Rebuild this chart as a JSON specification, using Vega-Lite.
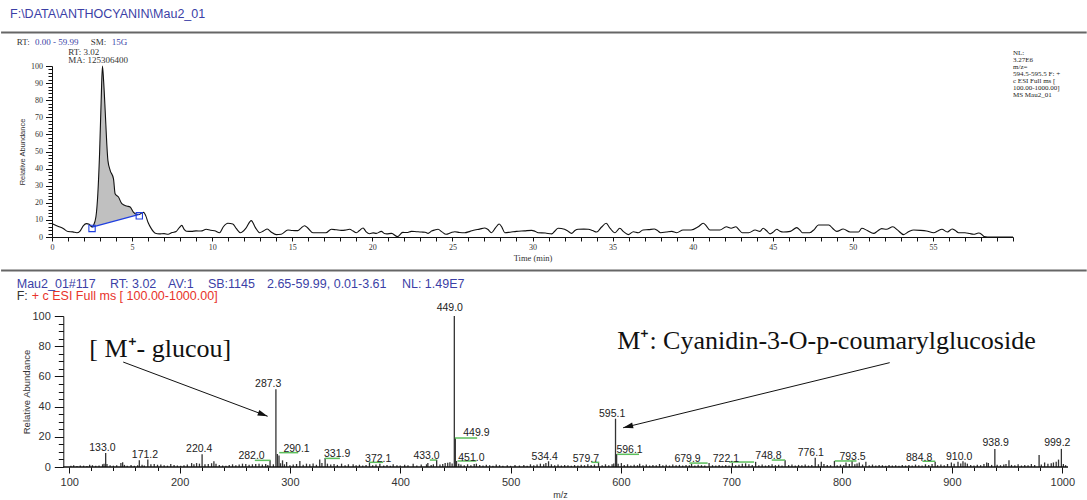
{
  "$schema": "https://vega.github.io/schema/vega-lite/v6.json",
  "background": "white",
  "padding": {"left": 0, "top": 8, "right": 0, "bottom": 0},
  "spacing": 6,
  "config": {"view": {"stroke": null}, "axis": {"grid": false, "domainColor": "#111", "tickColor": "#111", "labelColor": "#333", "titleColor": "#333"}},
  "datasets": {
    "trace": [
      {"t":0.05,"v":7.6},{"t":0.4,"v":6.2},{"t":0.7,"v":5.0},{"t":1.0,"v":3.2},{"t":1.3,"v":3.0},{"t":1.55,"v":2.5},{"t":1.75,"v":3.5},{"t":1.95,"v":6.5},{"t":2.15,"v":7.8},{"t":2.32,"v":7.4},{"t":2.5,"v":5.9},
      {"t":2.59,"v":6.8},{"t":2.74,"v":11.7},{"t":2.86,"v":25},{"t":2.97,"v":48.7},{"t":3.07,"v":80},{"t":3.15,"v":100},{"t":3.22,"v":91.6},{"t":3.32,"v":74},{"t":3.42,"v":54.6},{"t":3.49,"v":44.8},{"t":3.63,"v":39},{"t":3.84,"v":34},{"t":3.94,"v":25.3},{"t":4.15,"v":23.4},{"t":4.36,"v":19.5},{"t":4.67,"v":18.1},{"t":4.88,"v":17.5},{"t":5.08,"v":14.6},{"t":5.29,"v":13.3},{"t":5.45,"v":13.2},
      {"t":5.6,"v":14.1},{"t":5.72,"v":14.4},{"t":5.85,"v":12.5},{"t":6.0,"v":8.5},{"t":6.2,"v":4.9},{"t":6.45,"v":2.2},{"t":6.7,"v":1.8},{"t":7.0,"v":2.0},{"t":7.25,"v":1.6},{"t":7.5,"v":2.6},{"t":7.75,"v":3.2},{"t":7.95,"v":5.5},{"t":8.1,"v":6.8},{"t":8.25,"v":4.5},{"t":8.4,"v":3.4},{"t":8.7,"v":3.3},{"t":9.0,"v":3.6},{"t":9.3,"v":3.5},{"t":9.63,"v":4.5},{"t":9.9,"v":3.9},{"t":10.15,"v":3.7},{"t":10.46,"v":2.5},{"t":10.7,"v":6.0},{"t":10.98,"v":8.0},{"t":11.29,"v":7.6},{"t":11.5,"v":5.0},{"t":11.77,"v":2.5},{"t":12.1,"v":5.0},{"t":12.44,"v":9.6},{"t":12.7,"v":5.5},{"t":12.96,"v":2.5},{"t":13.2,"v":3.5},{"t":13.44,"v":4.7},{"t":13.7,"v":2.8},{"t":14.0,"v":1.4},{"t":14.31,"v":1.6},{"t":14.73,"v":4.1},{"t":15.0,"v":3.8},{"t":15.35,"v":3.7},{"t":15.55,"v":5.2},{"t":15.77,"v":6.6},{"t":16.0,"v":5.0},{"t":16.29,"v":2.5},{"t":16.7,"v":2.5},{"t":17.1,"v":2.5},{"t":17.44,"v":4.5},{"t":17.75,"v":4.2},{"t":18.06,"v":3.9},{"t":18.3,"v":4.0},{"t":18.58,"v":4.5},{"t":18.8,"v":3.5},{"t":19.0,"v":2.5},{"t":19.2,"v":3.8},{"t":19.42,"v":5.3},{"t":19.6,"v":3.2},{"t":19.83,"v":1.9},{"t":20.05,"v":2.4},{"t":20.25,"v":2.1},{"t":20.56,"v":3.3},{"t":20.75,"v":2.0},{"t":20.9,"v":1.8},{"t":21.2,"v":2.1},{"t":21.56,"v":0.2},{"t":21.9,"v":2.7},{"t":22.15,"v":2.6},{"t":22.44,"v":3.3},{"t":22.75,"v":3.1},{"t":23.06,"v":2.9},{"t":23.3,"v":2.8},{"t":23.48,"v":2.1},{"t":23.7,"v":3.5},{"t":23.9,"v":4.1},{"t":24.1,"v":4.5},{"t":24.35,"v":3.0},{"t":24.6,"v":1.6},{"t":24.9,"v":2.5},{"t":25.15,"v":3.1},{"t":25.45,"v":2.6},{"t":25.77,"v":2.5},{"t":26.1,"v":3.3},{"t":26.4,"v":4.1},{"t":26.7,"v":4.6},{"t":27.0,"v":5.3},{"t":27.2,"v":4.5},{"t":27.44,"v":2.5},{"t":27.7,"v":5.5},{"t":27.92,"v":7.6},{"t":28.1,"v":5.5},{"t":28.27,"v":2.5},{"t":28.6,"v":2.8},{"t":29.0,"v":3.3},{"t":29.5,"v":3.6},{"t":29.94,"v":3.9},{"t":30.15,"v":3.4},{"t":30.35,"v":2.5},{"t":30.8,"v":2.3},{"t":31.2,"v":1.8},{"t":31.4,"v":3.5},{"t":31.6,"v":5.1},{"t":32.0,"v":4.5},{"t":32.2,"v":3.5},{"t":32.44,"v":2.1},{"t":32.65,"v":3.8},{"t":32.85,"v":4.5},{"t":33.2,"v":4.6},{"t":33.48,"v":4.5},{"t":33.75,"v":3.8},{"t":34.0,"v":2.9},{"t":34.3,"v":5.7},{"t":34.6,"v":8.0},{"t":34.85,"v":5.0},{"t":35.15,"v":2.5},{"t":35.45,"v":5.1},{"t":35.7,"v":3.0},{"t":35.98,"v":1.4},{"t":36.3,"v":3.1},{"t":36.6,"v":2.5},{"t":36.9,"v":4.1},{"t":37.25,"v":4.3},{"t":37.6,"v":4.7},{"t":37.8,"v":3.8},{"t":38.0,"v":2.5},{"t":38.35,"v":2.9},{"t":38.7,"v":3.3},{"t":39.0,"v":2.5},{"t":39.4,"v":4.1},{"t":39.9,"v":4.1},{"t":40.35,"v":6.0},{"t":40.66,"v":8.0},{"t":40.85,"v":6.5},{"t":41.08,"v":4.1},{"t":41.4,"v":4.1},{"t":41.7,"v":4.1},{"t":42.1,"v":6.0},{"t":42.4,"v":5.1},{"t":42.7,"v":6.0},{"t":42.9,"v":4.2},{"t":43.1,"v":2.5},{"t":43.5,"v":2.5},{"t":43.9,"v":4.1},{"t":44.2,"v":3.3},{"t":44.4,"v":5.1},{"t":44.6,"v":3.8},{"t":44.83,"v":1.8},{"t":45.05,"v":3.0},{"t":45.25,"v":4.5},{"t":45.45,"v":3.4},{"t":45.66,"v":2.9},{"t":46.1,"v":3.3},{"t":46.5,"v":5.5},{"t":46.7,"v":4.0},{"t":46.85,"v":2.5},{"t":47.3,"v":2.5},{"t":47.6,"v":4.5},{"t":47.85,"v":7.0},{"t":48.2,"v":7.0},{"t":48.5,"v":7.0},{"t":48.75,"v":5.0},{"t":49.0,"v":3.3},{"t":49.4,"v":4.7},{"t":49.83,"v":2.9},{"t":50.35,"v":2.9},{"t":50.56,"v":5.1},{"t":50.9,"v":3.8},{"t":51.3,"v":2.1},{"t":51.55,"v":3.5},{"t":51.8,"v":4.9},{"t":52.1,"v":4.5},{"t":52.5,"v":6.0},{"t":52.8,"v":4.0},{"t":53.17,"v":1.4},{"t":53.5,"v":3.2},{"t":53.8,"v":4.1},{"t":54.2,"v":3.9},{"t":54.6,"v":3.5},{"t":55.05,"v":2.5},{"t":55.3,"v":3.5},{"t":55.56,"v":4.5},{"t":55.9,"v":2.9},{"t":56.2,"v":4.7},{"t":56.4,"v":3.8},{"t":56.6,"v":2.5},{"t":57.0,"v":2.5},{"t":57.3,"v":2.0},{"t":57.54,"v":1.6},{"t":57.85,"v":2.3},{"t":58.05,"v":1.5},{"t":58.2,"v":0.2},{"t":58.4,"v":0},{"t":60,"v":0}
    ],
    "peak": [
      {"t":2.5,"v":5.9,"base":5.8},{"t":2.59,"v":6.8,"base":6.02},{"t":2.74,"v":11.7,"base":6.4},{"t":2.86,"v":25,"base":6.7},{"t":2.97,"v":48.7,"base":6.98},{"t":3.07,"v":80,"base":7.23},{"t":3.15,"v":100,"base":7.43},{"t":3.22,"v":91.6,"base":7.61},{"t":3.32,"v":74,"base":7.86},{"t":3.42,"v":54.6,"base":8.11},{"t":3.49,"v":44.8,"base":8.28},{"t":3.63,"v":39,"base":8.63},{"t":3.84,"v":34,"base":9.16},{"t":3.94,"v":25.3,"base":9.41},{"t":4.15,"v":23.4,"base":9.94},{"t":4.36,"v":19.5,"base":10.46},{"t":4.67,"v":18.1,"base":11.24},{"t":4.88,"v":17.5,"base":11.77},{"t":5.08,"v":14.6,"base":12.27},{"t":5.29,"v":13.3,"base":12.8},{"t":5.45,"v":13.2,"base":13.2}
    ],
    "spectrum": [
      {"mz":101.5,"i":0.8},{"mz":104,"i":1.2},{"mz":107,"i":0.6},{"mz":110,"i":1.0},{"mz":113,"i":0.9},{"mz":116,"i":0.7},{"mz":118.5,"i":1.5},{"mz":121,"i":1.2},{"mz":124,"i":0.8},{"mz":127,"i":1.0},{"mz":130.2,"i":1.8},{"mz":131.5,"i":2.2},{"mz":133.0,"i":9.3},{"mz":134.2,"i":2.0},{"mz":137,"i":1.2},{"mz":140,"i":0.9},{"mz":143,"i":1.1},{"mz":146.8,"i":2.6},{"mz":148.4,"i":3.1},{"mz":150,"i":1.4},{"mz":152.5,"i":0.9},{"mz":156,"i":1.3},{"mz":159,"i":0.8},{"mz":162,"i":1.2},{"mz":163.5,"i":4.4},{"mz":166,"i":1.5},{"mz":168,"i":1.0},{"mz":171.2,"i":5.0},{"mz":174,"i":1.8},{"mz":177,"i":2.0},{"mz":180,"i":1.5},{"mz":183,"i":1.6},{"mz":186,"i":1.2},{"mz":189,"i":0.9},{"mz":192,"i":2.0},{"mz":195,"i":1.4},{"mz":198,"i":1.0},{"mz":201,"i":0.8},{"mz":204,"i":1.2},{"mz":207,"i":1.6},{"mz":210.9,"i":2.6},{"mz":213,"i":1.8},{"mz":215.4,"i":2.6},{"mz":218,"i":2.2},{"mz":220.4,"i":8.5},{"mz":223,"i":1.8},{"mz":226,"i":2.0},{"mz":229,"i":2.5},{"mz":231.1,"i":3.8},{"mz":233,"i":2.2},{"mz":236,"i":1.3},{"mz":239,"i":1.0},{"mz":242,"i":0.8},{"mz":245,"i":1.4},{"mz":248,"i":1.8},{"mz":251,"i":1.2},{"mz":254,"i":1.6},{"mz":257,"i":2.2},{"mz":260,"i":2.0},{"mz":263,"i":1.5},{"mz":266,"i":1.8},{"mz":269,"i":2.0},{"mz":272,"i":2.2},{"mz":275,"i":1.6},{"mz":278,"i":2.0},{"mz":280,"i":1.4},{"mz":282.0,"i":4.4},{"mz":285,"i":1.8},{"mz":287.3,"i":51.5},{"mz":288.6,"i":8.6},{"mz":290.1,"i":7.6},{"mz":291.5,"i":2.5},{"mz":293.3,"i":4.4},{"mz":295,"i":1.8},{"mz":297,"i":3.3},{"mz":300,"i":1.2},{"mz":303,"i":1.6},{"mz":306,"i":2.0},{"mz":309,"i":4.0},{"mz":312,"i":1.5},{"mz":315,"i":2.2},{"mz":318,"i":1.8},{"mz":321,"i":2.4},{"mz":324,"i":1.5},{"mz":327,"i":4.9},{"mz":329,"i":2.6},{"mz":331.9,"i":6.0},{"mz":334,"i":2.2},{"mz":337,"i":1.6},{"mz":340,"i":2.0},{"mz":343,"i":1.4},{"mz":346.8,"i":2.2},{"mz":350,"i":1.2},{"mz":353,"i":1.8},{"mz":357.3,"i":1.8},{"mz":360,"i":1.2},{"mz":363,"i":1.5},{"mz":366,"i":1.0},{"mz":369,"i":1.4},{"mz":372.1,"i":3.1},{"mz":375,"i":1.2},{"mz":378,"i":1.6},{"mz":381.5,"i":2.2},{"mz":385,"i":1.0},{"mz":388,"i":1.4},{"mz":391,"i":0.9},{"mz":393.6,"i":1.8},{"mz":397,"i":1.2},{"mz":400,"i":1.0},{"mz":404,"i":1.5},{"mz":407,"i":1.2},{"mz":411.7,"i":2.2},{"mz":415,"i":1.0},{"mz":419,"i":1.6},{"mz":423.8,"i":1.8},{"mz":425,"i":2.6},{"mz":428,"i":1.4},{"mz":430,"i":1.8},{"mz":433.0,"i":4.8},{"mz":436,"i":1.6},{"mz":438.5,"i":2.0},{"mz":440.7,"i":2.6},{"mz":443,"i":2.8},{"mz":445,"i":3.2},{"mz":447,"i":2.4},{"mz":449.0,"i":100},{"mz":449.9,"i":19.2},{"mz":451.0,"i":4.0},{"mz":453,"i":2.2},{"mz":455,"i":1.6},{"mz":458,"i":1.2},{"mz":461,"i":1.8},{"mz":464,"i":1.2},{"mz":467,"i":2.0},{"mz":469,"i":2.2},{"mz":472,"i":1.4},{"mz":475,"i":1.0},{"mz":478,"i":1.5},{"mz":481,"i":1.2},{"mz":484,"i":0.8},{"mz":487,"i":1.6},{"mz":490,"i":1.2},{"mz":493,"i":0.9},{"mz":497,"i":1.2},{"mz":500,"i":0.8},{"mz":504,"i":1.3},{"mz":508,"i":1.0},{"mz":512,"i":1.4},{"mz":515,"i":0.9},{"mz":518,"i":1.8},{"mz":521,"i":1.2},{"mz":524,"i":1.6},{"mz":527,"i":2.2},{"mz":530,"i":1.8},{"mz":532,"i":2.6},{"mz":534.4,"i":3.8},{"mz":537,"i":1.8},{"mz":540,"i":1.2},{"mz":543,"i":1.6},{"mz":546,"i":1.0},{"mz":549,"i":1.4},{"mz":552,"i":1.2},{"mz":555,"i":0.9},{"mz":558,"i":1.3},{"mz":561,"i":1.0},{"mz":564,"i":1.5},{"mz":567,"i":1.2},{"mz":570,"i":1.8},{"mz":573,"i":1.4},{"mz":576,"i":1.6},{"mz":579.7,"i":2.6},{"mz":583,"i":1.2},{"mz":586,"i":1.8},{"mz":589,"i":1.2},{"mz":592,"i":1.8},{"mz":593.5,"i":2.4},{"mz":595.1,"i":32},{"mz":596.1,"i":8.5},{"mz":597.5,"i":2.2},{"mz":600.4,"i":2.6},{"mz":603,"i":1.4},{"mz":606,"i":1.8},{"mz":609,"i":1.0},{"mz":612,"i":1.5},{"mz":615,"i":1.2},{"mz":617,"i":2.2},{"mz":620,"i":1.2},{"mz":623,"i":1.6},{"mz":626,"i":1.0},{"mz":629,"i":1.4},{"mz":632,"i":1.2},{"mz":635,"i":2.0},{"mz":638,"i":1.2},{"mz":641,"i":1.5},{"mz":644,"i":1.0},{"mz":647,"i":1.6},{"mz":650,"i":1.2},{"mz":653,"i":1.4},{"mz":656,"i":1.0},{"mz":659,"i":1.3},{"mz":662,"i":1.2},{"mz":664,"i":2.0},{"mz":667,"i":1.0},{"mz":670,"i":1.5},{"mz":673,"i":1.2},{"mz":676,"i":1.0},{"mz":679.9,"i":2.6},{"mz":683,"i":1.2},{"mz":686,"i":1.0},{"mz":689,"i":1.4},{"mz":692,"i":0.9},{"mz":695,"i":1.3},{"mz":698,"i":1.0},{"mz":701,"i":2.6},{"mz":704,"i":1.2},{"mz":707,"i":1.5},{"mz":710,"i":2.2},{"mz":713,"i":2.4},{"mz":716,"i":1.8},{"mz":719,"i":1.4},{"mz":722.1,"i":3.4},{"mz":725,"i":1.2},{"mz":728,"i":1.6},{"mz":731,"i":1.0},{"mz":734,"i":1.4},{"mz":737,"i":1.8},{"mz":740,"i":1.2},{"mz":743,"i":1.5},{"mz":746,"i":1.0},{"mz":748.8,"i":4.4},{"mz":752,"i":1.3},{"mz":755,"i":1.6},{"mz":758,"i":1.0},{"mz":761,"i":1.4},{"mz":764,"i":1.2},{"mz":767,"i":1.6},{"mz":770,"i":1.0},{"mz":773,"i":1.4},{"mz":776.1,"i":6.2},{"mz":779,"i":1.8},{"mz":781.6,"i":3.5},{"mz":784,"i":2.0},{"mz":787,"i":1.4},{"mz":790,"i":1.2},{"mz":793.5,"i":4.0},{"mz":796,"i":1.2},{"mz":799,"i":1.6},{"mz":802,"i":1.4},{"mz":804,"i":3.0},{"mz":807,"i":2.0},{"mz":809.5,"i":4.0},{"mz":812,"i":1.8},{"mz":814,"i":2.4},{"mz":816,"i":3.0},{"mz":819,"i":1.6},{"mz":822,"i":3.5},{"mz":825,"i":1.2},{"mz":828,"i":1.6},{"mz":831,"i":1.0},{"mz":834,"i":1.4},{"mz":837,"i":1.2},{"mz":840,"i":0.9},{"mz":843,"i":1.3},{"mz":846,"i":1.0},{"mz":849,"i":1.2},{"mz":852,"i":0.8},{"mz":855,"i":1.4},{"mz":858,"i":1.0},{"mz":861,"i":1.3},{"mz":864,"i":1.0},{"mz":867,"i":1.6},{"mz":870,"i":1.2},{"mz":873,"i":1.0},{"mz":876,"i":1.8},{"mz":879,"i":1.4},{"mz":882,"i":2.0},{"mz":884.8,"i":3.5},{"mz":887,"i":1.2},{"mz":890,"i":1.6},{"mz":893,"i":1.2},{"mz":896,"i":2.0},{"mz":899.5,"i":3.0},{"mz":902,"i":2.2},{"mz":905.5,"i":3.5},{"mz":908,"i":2.4},{"mz":910.0,"i":3.8},{"mz":912,"i":3.0},{"mz":914,"i":2.2},{"mz":917,"i":1.4},{"mz":920,"i":1.0},{"mz":923,"i":1.5},{"mz":926,"i":1.2},{"mz":929,"i":2.0},{"mz":931.5,"i":3.0},{"mz":933,"i":2.6},{"mz":936,"i":1.4},{"mz":938.9,"i":12.0},{"mz":941,"i":1.5},{"mz":944,"i":1.2},{"mz":947,"i":1.6},{"mz":949,"i":2.0},{"mz":951.7,"i":4.5},{"mz":954,"i":1.4},{"mz":957,"i":1.2},{"mz":960,"i":1.8},{"mz":963,"i":1.0},{"mz":966,"i":1.4},{"mz":969,"i":1.2},{"mz":972,"i":2.0},{"mz":975,"i":1.4},{"mz":979,"i":8.0},{"mz":981,"i":1.6},{"mz":984,"i":3.0},{"mz":987,"i":2.2},{"mz":990,"i":2.5},{"mz":992,"i":3.0},{"mz":994.5,"i":3.5},{"mz":996.6,"i":4.9},{"mz":999.2,"i":12.0},{"mz":1001,"i":2.0},{"mz":1003,"i":1.2}
    ],
    "labels": [
      {"text":"133.0","lx":130.0,"ly":10.6},{"text":"171.2","lx":168.6,"ly":6.2},{"text":"220.4","lx":217.8,"ly":9.9},{"text":"282.0","lx":265.2,"ly":5.1},{"text":"287.3","lx":280.3,"ly":53},{"text":"290.1","lx":306,"ly":9.9},{"text":"331.9","lx":342.8,"ly":6.6},{"text":"372.1","lx":380,"ly":3.3},{"text":"433.0","lx":423.8,"ly":5.5},{"text":"449.0","lx":444.9,"ly":103.1},{"text":"449.9","lx":469,"ly":20.3},{"text":"451.0","lx":464.5,"ly":4.0},{"text":"534.4","lx":530.9,"ly":4.9},{"text":"579.7","lx":568.2,"ly":3.3},{"text":"595.1","lx":592,"ly":33.1},{"text":"596.1","lx":607.8,"ly":9.3},{"text":"679.9","lx":660.4,"ly":3.3},{"text":"722.1","lx":695.1,"ly":3.5},{"text":"748.8","lx":733.7,"ly":5.3},{"text":"776.1","lx":772.1,"ly":7.5},{"text":"793.5","lx":809.9,"ly":4.6},{"text":"884.8","lx":870.3,"ly":4.0},{"text":"910.0","lx":906.5,"ly":4.9},{"text":"938.9","lx":939.6,"ly":13.9},{"text":"999.2","lx":995.5,"ly":13.9}
    ],
    "greens": [
      {"g0":268.2,"g1":282.4,"gv":4.4},{"g0":290.3,"g1":307.5,"gv":9.5},{"g0":331.7,"g1":345.3,"gv":5.7},{"g0":371.8,"g1":384.5,"gv":3.1},{"g0":426.8,"g1":432.9,"gv":4.6},{"g0":449.5,"g1":469.7,"gv":19.2},{"g0":451.9,"g1":469.0,"gv":4.0},{"g0":573.2,"g1":580.4,"gv":3.1},{"g0":596.5,"g1":616.4,"gv":8.4},{"g0":662.0,"g1":678.6,"gv":2.6},{"g0":698.0,"g1":720.7,"gv":3.3},{"g0":736.7,"g1":748.8,"gv":4.6},{"g0":793.8,"g1":813.5,"gv":4.0},{"g0":873.3,"g1":884.8,"gv":3.8}
    ]
  },
  "vconcat": [
    {
      "width": 961,
      "height": 171,
      "resolve": {"axis": {"x": "independent", "y": "independent"}},
      "layer": [
        {
          "data": {"name": "peak"},
          "mark": {"type": "area", "color": "#c0c0c0", "interpolate": "monotone"},
          "encoding": {
            "x": {"field": "t", "type": "quantitative", "scale": {"domain": [0, 60], "nice": false, "zero": false},
              "axis": {"orient": "bottom", "values": [1,2,3,4,6,7,8,9,11,12,13,14,16,17,18,19,21,22,23,24,26,27,28,29,31,32,33,34,36,37,38,39,41,42,43,44,46,47,48,49,51,52,53,54,56,57,58,59,60], "labels": false, "domain": false, "tickSize": 4, "title": null}},
            "y": {"field": "v", "type": "quantitative", "scale": {"domain": [0, 100], "nice": false},
              "axis": {"orient": "left", "values": [0,2,4,6,8,12,14,16,18,22,24,26,28,32,34,36,38,42,44,46,48,52,54,56,58,62,64,66,68,72,74,76,78,82,84,86,88,92,94,96,98], "labels": false, "domain": false, "tickSize": 4, "title": null}},
            "y2": {"field": "base"}
          }
        },
        {
          "data": {"name": "trace"},
          "mark": {"type": "line", "color": "#111", "strokeWidth": 1.1, "interpolate": "monotone"},
          "encoding": {
            "x": {"field": "t", "type": "quantitative", "scale": {"domain": [0, 60], "nice": false, "zero": false},
              "axis": {"orient": "bottom", "values": [0,5,10,15,20,25,30,35,40,45,50,55],
                "tickSize": 4, "labelPadding": 2, "labelFont": "Liberation Serif", "labelFontSize": 8, "labelFlush": false, "labelOverlap": false,
                "title": "Time (min)", "titleFont": "Liberation Serif", "titleFontSize": 8.5, "titleFontWeight": "normal", "titlePadding": 2}},
            "y": {"field": "v", "type": "quantitative", "scale": {"domain": [0, 100], "nice": false},
              "axis": {"orient": "left", "values": [0,10,20,30,40,50,60,70,80,90,100],
                "tickSize": 6.5, "labelPadding": 3, "labelFont": "Liberation Serif", "labelFontSize": 8, "labelOverlap": false, "labelFlush": false,
                "title": "Relative Abundance", "titleFont": "Liberation Sans", "titleFontSize": 7.5, "titleFontWeight": "normal", "titlePadding": 4}}
          }
        },
        {
          "data": {"values": [{"t0": 2.5, "v0": 5.8, "t1": 5.45, "v1": 13.2}]},
          "mark": {"type": "rule", "color": "#1f3fe0", "strokeWidth": 1.2},
          "encoding": {
            "x": {"field": "t0", "type": "quantitative", "axis": null},
            "y": {"field": "v0", "type": "quantitative", "axis": null},
            "x2": {"field": "t1"},
            "y2": {"field": "v1"}
          }
        },
        {
          "data": {"values": [{"t": 2.5, "v": 5.0}, {"t": 5.45, "v": 12.4}]},
          "mark": {"type": "point", "shape": "square", "filled": false, "color": "#1f3fe0", "size": 40, "strokeWidth": 1.1, "opacity": 1},
          "encoding": {
            "x": {"field": "t", "type": "quantitative", "axis": null},
            "y": {"field": "v", "type": "quantitative", "axis": null}
          }
        },
        {
          "data": {"values": [{}]},
          "mark": {"type": "rule", "color": "#666", "strokeWidth": 2},
          "encoding": {
            "x": {"datum": -3.18, "type": "quantitative", "axis": null},
            "x2": {"datum": 64.6},
            "y": {"datum": 119.6, "type": "quantitative", "axis": null}
          }
        },
        {
          "data": {"values": [{}]},
          "mark": {"type": "rule", "color": "#666", "strokeWidth": 2},
          "encoding": {
            "x": {"datum": -3.18, "type": "quantitative", "axis": null},
            "x2": {"datum": 64.6},
            "y": {"datum": -19.6, "type": "quantitative", "axis": null}
          }
        },
        {
          "data": {"values": [{}]},
          "mark": {"type": "text", "text": "F:\\DATA\\ANTHOCYANIN\\Mau2_01", "align": "left", "baseline": "alphabetic", "font": "Liberation Sans", "fontSize": 12.5, "color": "#3b3fa6"},
          "encoding": {
            "x": {"datum": -2.62, "type": "quantitative", "axis": null},
            "y": {"datum": 128.0, "type": "quantitative", "axis": null}
          }
        },
        {
          "data": {"values": [{}]},
          "mark": {"type": "text", "text": "RT:", "align": "left", "baseline": "alphabetic", "font": "Liberation Serif", "fontSize": 9, "color": "#333"},
          "encoding": {"x": {"datum": -2.2, "type": "quantitative", "axis": null}, "y": {"datum": 112.0, "type": "quantitative", "axis": null}}
        },
        {
          "data": {"values": [{}]},
          "mark": {"type": "text", "text": "0.00 - 59.99", "align": "left", "baseline": "alphabetic", "font": "Liberation Serif", "fontSize": 9, "color": "#3b3fa6"},
          "encoding": {"x": {"datum": -1.06, "type": "quantitative", "axis": null}, "y": {"datum": 112.0, "type": "quantitative", "axis": null}}
        },
        {
          "data": {"values": [{}]},
          "mark": {"type": "text", "text": "SM:", "align": "left", "baseline": "alphabetic", "font": "Liberation Serif", "fontSize": 9, "color": "#333"},
          "encoding": {"x": {"datum": 2.42, "type": "quantitative", "axis": null}, "y": {"datum": 112.0, "type": "quantitative", "axis": null}}
        },
        {
          "data": {"values": [{}]},
          "mark": {"type": "text", "text": "15G", "align": "left", "baseline": "alphabetic", "font": "Liberation Serif", "fontSize": 9, "color": "#3b3fa6"},
          "encoding": {"x": {"datum": 3.73, "type": "quantitative", "axis": null}, "y": {"datum": 112.0, "type": "quantitative", "axis": null}}
        },
        {
          "data": {"values": [{}]},
          "mark": {"type": "text", "text": "RT: 3.02\nMA: 125306400", "lineBreak": "\n", "lineHeight": 8.7, "align": "left", "baseline": "alphabetic", "font": "Liberation Serif", "fontSize": 9, "color": "#333"},
          "encoding": {"x": {"datum": 1.02, "type": "quantitative", "axis": null}, "y": {"datum": 106.7, "type": "quantitative", "axis": null}}
        },
        {
          "data": {"values": [{}]},
          "mark": {"type": "text", "text": "NL:\n3.27E6\nm/z=\n594.5-595.5 F: +\nc ESI Full ms [\n100.00-1000.00]\nMS Mau2_01", "lineBreak": "\n", "lineHeight": 7, "align": "left", "baseline": "alphabetic", "font": "Liberation Serif", "fontSize": 7, "color": "#222"},
          "encoding": {"x": {"datum": 60.0, "type": "quantitative", "axis": null}, "y": {"datum": 106.6, "type": "quantitative", "axis": null}}
        }
      ]
    },
    {
      "width": 1016,
      "height": 151,
      "resolve": {"axis": {"x": "independent", "y": "independent"}},
      "layer": [
        {
          "data": {"name": "spectrum"},
          "mark": {"type": "rule", "color": "#333", "strokeWidth": 1.3},
          "encoding": {
            "x": {"field": "mz", "type": "quantitative", "scale": {"domain": [84.36, 1005.2], "nice": false, "zero": false},
              "axis": {"orient": "bottom", "values": [100,200,300,400,500,600,700,800,900,1000], "format": "d",
                "tickSize": 6, "domain": false, "labelPadding": 3, "labelFont": "Liberation Sans", "labelFontSize": 11, "labelFlush": false, "labelOverlap": false,
                "title": "m/z", "titleFont": "Liberation Sans", "titleFontSize": 9, "titleFontWeight": "normal", "titlePadding": 3}},
            "y": {"field": "i", "type": "quantitative", "scale": {"domain": [0, 100], "nice": false},
              "axis": {"orient": "left", "values": [0,20,40,60,80,100],
                "tickSize": 9, "offset": -11.3, "labelPadding": 4, "labelFont": "Liberation Sans", "labelFontSize": 11, "labelOverlap": false, "labelFlush": false,
                "title": "Relative Abundance", "titleFont": "Liberation Sans", "titleFontSize": 9.5, "titleFontWeight": "normal", "titlePadding": 0}},
            "y2": {"datum": 0}
          }
        },
        {
          "data": {"values": [{}]},
          "mark": {"type": "rule", "color": "#111", "strokeWidth": 1.5},
          "encoding": {
            "x": {"datum": 94.6, "type": "quantitative", "axis": null},
            "x2": {"datum": 1005.2},
            "y": {"datum": 0, "type": "quantitative", "axis": null}
          }
        },
        {
          "data": {"name": "greens"},
          "mark": {"type": "rule", "color": "#5cbf5c", "strokeWidth": 1.5},
          "encoding": {
            "x": {"field": "g0", "type": "quantitative",
              "axis": {"orient": "bottom", "values": [120,140,160,180,220,240,260,280,320,340,360,380,420,440,460,480,520,540,560,580,620,640,660,680,720,740,760,780,820,840,860,880,920,940,960,980], "labels": false, "domain": false, "tickSize": 3.5, "title": null}},
            "x2": {"field": "g1"},
            "y": {"field": "gv", "type": "quantitative",
              "axis": {"orient": "left", "values": [5,10,15,25,30,35,45,50,55,65,70,75,85,90,95], "labels": false, "domain": false, "tickSize": 5, "offset": -11.3, "title": null}}
          }
        },
        {
          "data": {"name": "labels"},
          "mark": {"type": "text", "align": "center", "baseline": "alphabetic", "font": "Liberation Sans", "fontSize": 10.5, "color": "#222"},
          "encoding": {
            "x": {"field": "lx", "type": "quantitative", "axis": null},
            "y": {"field": "ly", "type": "quantitative", "axis": null},
            "text": {"field": "text"}
          }
        },
        {
          "data": {"values": [{"from_mz": 148.9, "from_level": 69.5, "to_mz": 279.8, "to_level": 33.6}, {"from_mz": 843.6, "from_level": 69.1, "to_mz": 602.0, "to_level": 26.0}]},
          "mark": {"type": "rule", "color": "#111", "strokeWidth": 1},
          "encoding": {
            "x": {"field": "from_mz", "type": "quantitative", "axis": null},
            "y": {"field": "from_level", "type": "quantitative", "axis": null},
            "x2": {"field": "to_mz"},
            "y2": {"field": "to_level"}
          }
        },
        {
          "data": {"values": [{"to_mz": 279.8, "to_level": 33.6}]},
          "mark": {"type": "point", "shape": "M0,0L-2,-0.6L-2,0.6Z", "size": 100, "filled": true, "color": "#111", "opacity": 1, "angle": 20.6},
          "encoding": {
            "x": {"field": "to_mz", "type": "quantitative", "axis": null},
            "y": {"field": "to_level", "type": "quantitative", "axis": null}
          }
        },
        {
          "data": {"values": [{"to_mz": 602.0, "to_level": 26.0}]},
          "mark": {"type": "point", "shape": "M0,0L-2,-0.6L-2,0.6Z", "size": 100, "filled": true, "color": "#111", "opacity": 1, "angle": 166.3},
          "encoding": {
            "x": {"field": "to_mz", "type": "quantitative", "axis": null},
            "y": {"field": "to_level", "type": "quantitative", "axis": null}
          }
        },
        {
          "data": {"values": [{}]},
          "mark": {"type": "text", "text": "[ M⁺- glucou]", "align": "center", "baseline": "alphabetic", "font": "Liberation Serif", "fontSize": 26, "color": "#111"},
          "encoding": {"x": {"datum": 182.4, "type": "quantitative", "axis": null}, "y": {"datum": 72.8, "type": "quantitative", "axis": null}}
        },
        {
          "data": {"values": [{}]},
          "mark": {"type": "text", "text": "M⁺: Cyanidin-3-O-p-coumarylglucoside", "align": "center", "baseline": "alphabetic", "font": "Liberation Serif", "fontSize": 26, "color": "#111"},
          "encoding": {"x": {"datum": 786.3, "type": "quantitative", "axis": null}, "y": {"datum": 78.3, "type": "quantitative", "axis": null}}
        },
        {
          "data": {"values": [{}]},
          "mark": {"type": "text", "text": "Mau2_01#117", "align": "left", "baseline": "alphabetic", "font": "Liberation Sans", "fontSize": 12.5, "color": "#3b3fa6"},
          "encoding": {"x": {"datum": 52.4, "type": "quantitative", "axis": null}, "y": {"datum": 118.5, "type": "quantitative", "axis": null}}
        },
        {
          "data": {"values": [{}]},
          "mark": {"type": "text", "text": "RT: 3.02", "align": "left", "baseline": "alphabetic", "font": "Liberation Sans", "fontSize": 12.5, "color": "#3b3fa6"},
          "encoding": {"x": {"datum": 136.9, "type": "quantitative", "axis": null}, "y": {"datum": 118.5, "type": "quantitative", "axis": null}}
        },
        {
          "data": {"values": [{}]},
          "mark": {"type": "text", "text": "AV:1", "align": "left", "baseline": "alphabetic", "font": "Liberation Sans", "fontSize": 12.5, "color": "#3b3fa6"},
          "encoding": {"x": {"datum": 189.5, "type": "quantitative", "axis": null}, "y": {"datum": 118.5, "type": "quantitative", "axis": null}}
        },
        {
          "data": {"values": [{}]},
          "mark": {"type": "text", "text": "SB:1145", "align": "left", "baseline": "alphabetic", "font": "Liberation Sans", "fontSize": 12.5, "color": "#3b3fa6"},
          "encoding": {"x": {"datum": 225.7, "type": "quantitative", "axis": null}, "y": {"datum": 118.5, "type": "quantitative", "axis": null}}
        },
        {
          "data": {"values": [{}]},
          "mark": {"type": "text", "text": "2.65-59.99, 0.01-3.61", "align": "left", "baseline": "alphabetic", "font": "Liberation Sans", "fontSize": 12.5, "color": "#3b3fa6"},
          "encoding": {"x": {"datum": 279.2, "type": "quantitative", "axis": null}, "y": {"datum": 118.5, "type": "quantitative", "axis": null}}
        },
        {
          "data": {"values": [{}]},
          "mark": {"type": "text", "text": "NL: 1.49E7", "align": "left", "baseline": "alphabetic", "font": "Liberation Sans", "fontSize": 12.5, "color": "#3b3fa6"},
          "encoding": {"x": {"datum": 401.5, "type": "quantitative", "axis": null}, "y": {"datum": 118.5, "type": "quantitative", "axis": null}}
        },
        {
          "data": {"values": [{}]},
          "mark": {"type": "text", "text": "F:", "align": "left", "baseline": "alphabetic", "font": "Liberation Sans", "fontSize": 12.5, "color": "#333"},
          "encoding": {"x": {"datum": 52.4, "type": "quantitative", "axis": null}, "y": {"datum": 110.4, "type": "quantitative", "axis": null}}
        },
        {
          "data": {"values": [{}]},
          "mark": {"type": "text", "text": "+ c ESI Full ms [ 100.00-1000.00]", "align": "left", "baseline": "alphabetic", "font": "Liberation Sans", "fontSize": 12.5, "color": "#e8332a"},
          "encoding": {"x": {"datum": 66.0, "type": "quantitative", "axis": null}, "y": {"datum": 110.4, "type": "quantitative", "axis": null}}
        }
      ]
    }
  ]
}
